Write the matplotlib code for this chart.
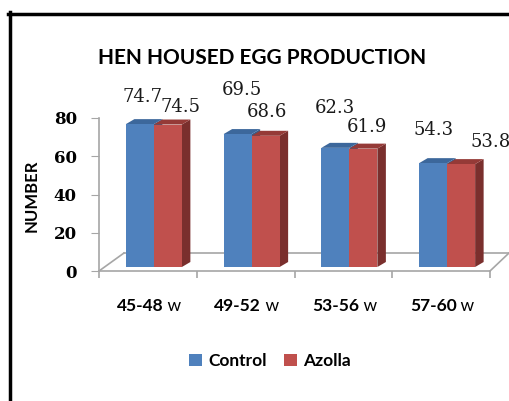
import matplotlib

matplotlib.use("Agg")
import matplotlib.pyplot as plt
from matplotlib.lines import Line2D
from matplotlib.patches import Patch, Polygon, Rectangle
import numpy as np

categories = ["45-48", "49-52", "53-56", "57-60"]
cat_suffix = " w"
series = ["Control", "Azolla"]
control = [74.7, 69.5, 62.3, 54.3]
azolla = [74.5, 68.6, 61.9, 53.8]
yticks = [0, 20, 40, 60, 80]

# label offsets (pixels from the front-top centre of each bar)
lab_off = {
    "Control": [(3, 27), (4, 44), (0, 40), (0, 33)],
    "Azolla": [(13, 18), (1, 24), (4, 22), (29, 22)],
}

FRONT = {"Control": "#4F81BD", "Azolla": "#C0504D"}
TOP = {"Control": "#3C679B", "Azolla": "#953A37"}
SIDE = {"Control": "#385D8A", "Azolla": "#7A2F2D"}
GREY = "#A6A6A6"
SANS = "Lato"
SERIF = "DejaVu Serif"

W, H = 509, 401
fig = plt.figure(figsize=(W / 100, H / 100), dpi=100)
ax_l, ax_r, ax_b, ax_t = 99, 490, 271, 118  # pixel box of the plot (top-down y)
ax = fig.add_axes([ax_l / W, (H - ax_b) / H, (ax_r - ax_l) / W, (ax_b - ax_t) / H])
ax.set_xlim(-0.5, len(categories) - 0.5)
ax.set_ylim(0, 80)
ax.patch.set_visible(False)

px_x = (ax_r - ax_l) / len(categories)  # pixels per category
px_y = (ax_b - ax_t) / 80.0  # pixels per unit
dx = lambda p: p / px_x
dy = lambda p: p / px_y

# floor
fl = dict(color=GREY, lw=1.2, clip_on=False, zorder=1)
x0, x1 = -0.5, len(categories) - 0.5
ax.plot([x0, x1], [0, 0], **fl)
ax.plot([x0, x0 + dx(25)], [0, dy(18)], **fl)
ax.plot([x1, x1 + dx(19)], [0, dy(18)], **fl)
ax.plot([x0 + dx(25), x1 + dx(19)], [dy(18), dy(18)], **fl)
ax.plot([x0, x0], [0, 80], **fl)

# bars with fake depth
bw = dx(28)
shift_x, lift = dx(6), dy(4)
ddx, ddy = dx(8.5), dy(5)
for si, (name, vals) in enumerate([("Control", control), ("Azolla", azolla)]):
    for i, v in enumerate(vals):
        left = i + shift_x - bw + si * bw
        b, t = lift, lift + v
        z = 3 + si
        ax.add_patch(Polygon([(left + bw, b), (left + bw + ddx, b + ddy),
                              (left + bw + ddx, t + ddy), (left + bw, t)],
                             closed=True, fc=SIDE[name], ec="none", zorder=z))
        ax.add_patch(Polygon([(left, t), (left + ddx, t + ddy),
                              (left + bw + ddx, t + ddy), (left + bw, t)],
                             closed=True, fc=TOP[name], ec="none", zorder=z))
        ax.add_patch(Rectangle((left, b), bw, v, fc=FRONT[name], ec="none", zorder=z))
        ox, oy = lab_off[name][i]
        ax.annotate(f"{v:.1f}", xy=(left + bw / 2, t), xytext=(ox, oy),
                    textcoords="offset pixels", ha="center", va="center",
                    fontsize=13, family=SERIF, color="#1a1a1a", zorder=10,
                    annotation_clip=False)

for s in ax.spines.values():
    s.set_visible(False)

# y ticks
ax.set_yticks(yticks)
ax.set_yticklabels([str(v) for v in yticks], family=SERIF, fontweight="bold",
                   fontsize=12)
ax.tick_params(axis="y", length=6, color=GREY, pad=10)
# x ticks at category boundaries
ax.set_xticks(np.arange(len(categories) + 1) - 0.5)
ax.set_xticklabels([])
ax.tick_params(axis="x", length=5, width=1.2, color=GREY, direction="out")

for i, c in enumerate(categories):
    t = ax.annotate(c, xy=(i, 0), xycoords=("data", "axes fraction"),
                    xytext=(-8, -35), textcoords="offset pixels",
                    ha="center", va="center", fontsize=12.5, family=SANS,
                    fontweight="bold", annotation_clip=False)
    ax.annotate(cat_suffix, xy=(1, 0.5), xycoords=t, ha="left", va="center",
                fontsize=12.5, family=SANS, annotation_clip=False)

fig.text(262 / W, 1 - 58 / H, "HEN HOUSED EGG PRODUCTION", ha="center",
         va="center", fontsize=15, family=SANS, fontweight="bold")
fig.text(32 / W, 1 - 196 / H, "NUMBER", rotation=90, ha="center", va="center",
         fontsize=12, family=SANS, fontweight="bold")

handles = [Patch(fc=FRONT[n], ec="none") for n in series]
fig.legend(handles, series, loc="center", bbox_to_anchor=(270 / W, 1 - 361 / H),
           ncol=2, frameon=False, handlelength=0.75, handleheight=0.75,
           handletextpad=0.35, columnspacing=1.0,
           prop=dict(family=SANS, weight="bold", size=12.5))

# outer frame (left and top only)
fig.add_artist(Line2D([9.5 / W, 9.5 / W], [0, 1 - 12 / H], color="black", lw=2.5,
                      transform=fig.transFigure))
fig.add_artist(Line2D([8 / W, 1], [1 - 13.5 / H, 1 - 13.5 / H], color="black", lw=2.5,
                      transform=fig.transFigure))

fig.savefig("out.png", dpi=100)
